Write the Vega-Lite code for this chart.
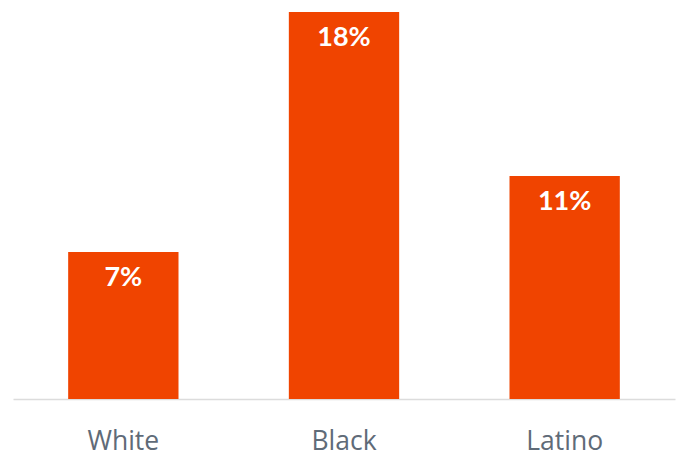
{
  "$schema": "https://vega.github.io/schema/vega-lite/v6.json",
  "width": 662,
  "height": 399,
  "padding": {"left": 13, "top": 0, "right": 5, "bottom": 0},
  "background": "white",
  "data": {
    "values": [
      {"group": "White", "value": 6.84, "label": "7%"},
      {"group": "Black", "value": 18.0, "label": "18%"},
      {"group": "Latino", "value": 10.37, "label": "11%"}
    ]
  },
  "encoding": {
    "x": {
      "field": "group",
      "type": "nominal",
      "sort": null,
      "scale": {"paddingInner": 0.5, "paddingOuter": 0.25},
      "axis": {
        "title": null,
        "domain": true,
        "domainColor": "#dcdcdc",
        "domainWidth": 1.5,
        "ticks": false,
        "labelAngle": 0,
        "labelFont": "Open Sans",
        "labelFontSize": 26.5,
        "labelColor": "#5f6b78",
        "labelBaseline": "alphabetic",
        "labelPadding": 50
      }
    },
    "y": {
      "field": "value",
      "type": "quantitative",
      "scale": {"domain": [0, 18.558], "nice": false, "zero": true},
      "axis": null
    }
  },
  "layer": [
    {"mark": {"type": "bar", "color": "#f04400"}},
    {
      "mark": {
        "type": "text",
        "color": "white",
        "font": "Lato",
        "fontWeight": "bold",
        "fontSize": 27,
        "baseline": "top",
        "dy": 13
      },
      "encoding": {"text": {"field": "label"}}
    }
  ],
  "config": {"view": {"stroke": null}}
}
